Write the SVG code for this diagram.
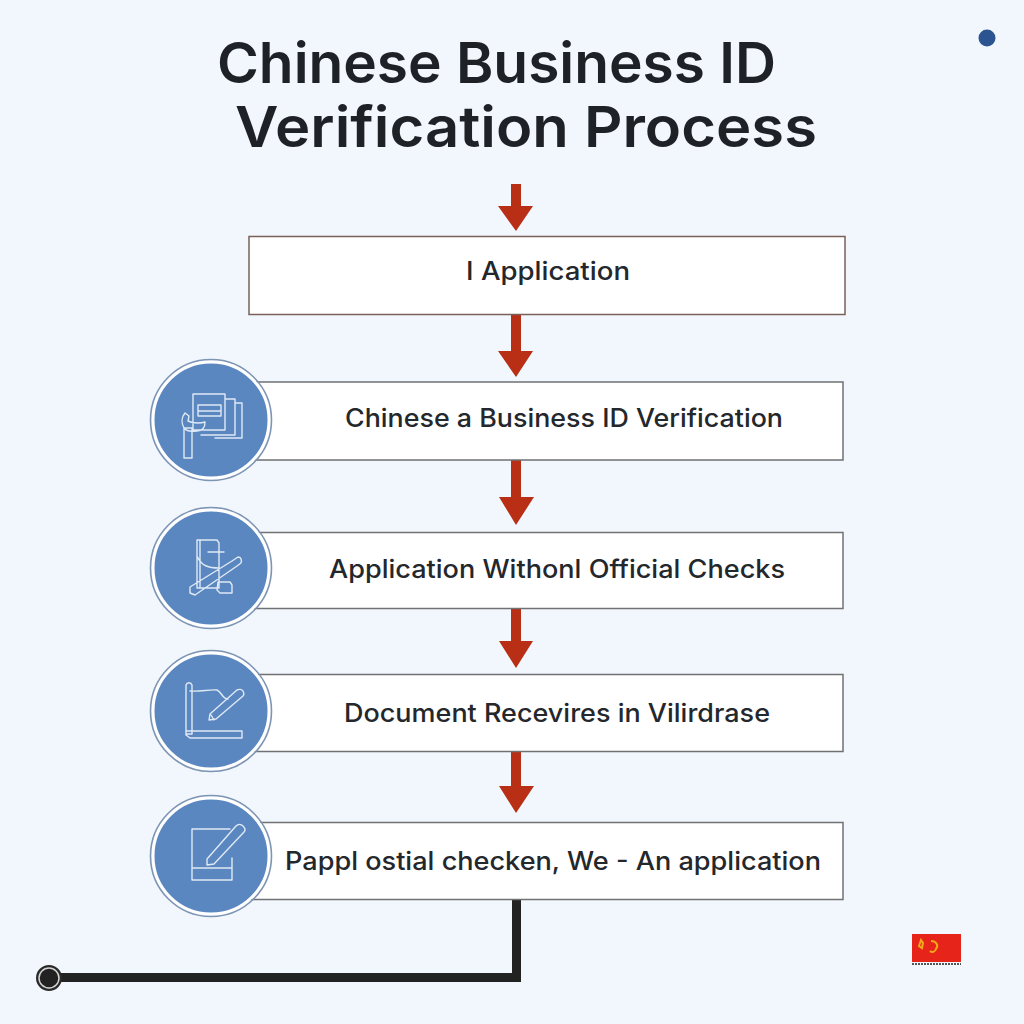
<svg xmlns="http://www.w3.org/2000/svg" width="1024" height="1024" viewBox="0 0 1024 1024">
<defs>
<style>
.title{font-family:Inter,"Open Sans","Liberation Sans",sans-serif;font-weight:600;font-size:56px;fill:#1e2227;text-anchor:start}
.label{font-family:Inter,"Open Sans","Liberation Sans",sans-serif;font-weight:500;font-size:25.500px;fill:#24272b;text-anchor:start}
.box{fill:#fff;stroke:#6f7173;stroke-width:1.5}
.disc{fill:#5b87c0;stroke:#fff;stroke-width:3}
.ring{fill:none;stroke:#7d94b3;stroke-width:1.6}
.icon{fill:none;stroke:#dfe9f5;stroke-width:1.4;stroke-linejoin:round;stroke-linecap:round}
.arrow{fill:#b92f16}
</style>
</defs>
<rect width="1024" height="1024" fill="#f2f7fe"/>
<circle cx="987" cy="38" r="8.500" fill="#2b5490"/>
<text class="title" x="217" y="83" textLength="559" lengthAdjust="spacingAndGlyphs">Chinese Business ID</text>
<text class="title" x="235" y="147" textLength="582" lengthAdjust="spacingAndGlyphs">Verification Process</text>
<g id="connectors">
<path class="arrow" d="M511 184h10v22h12l-17 25-18-25h13z"/>
<path class="arrow" d="M511 314h10v37h12l-17 26-18-26h13z"/>
<path class="arrow" d="M511 460h10v37h13l-18 28-17-28h12z"/>
<path class="arrow" d="M511 608h10v33h12l-17 27-17-27h12z"/>
<path class="arrow" d="M511 751h10v35h13l-18 27-17-27h12z"/>
<path d="M516.500 900V977.500H50" fill="none" stroke="#222" stroke-width="9"/>
<circle cx="49" cy="978" r="12" fill="#222" stroke="#2a2a2a" stroke-width="2"/>
<circle cx="49" cy="978" r="10" fill="none" stroke="#d5d5d5" stroke-width="1.500"/>
</g>
<g id="node-application">
<rect class="box" x="249" y="236.500" width="596" height="78" style="stroke:#7a6058"/>
<text class="label" x="466" y="280" textLength="164" lengthAdjust="spacingAndGlyphs">I Application</text>
</g>
<g id="node-verification">
<rect class="box" x="250" y="382" width="593" height="78"/>
<circle class="disc" cx="211" cy="420" r="58"/><circle class="ring" cx="211" cy="420" r="60.500"/>
<path class="icon" d="M193 394h32v36h-32zM225 399h10v36h-34M235 403h7v35h-27M198 405h23v11h-23zM198 411h23M184 428h8v30h-8zM184 428c-3-6-3-10 1-15l4 3-1 5c6 3 14 2 17 1 0 6-3 9-8 9-4 0-9 2-13-3z"/>
<text class="label" x="345" y="427" textLength="438" lengthAdjust="spacingAndGlyphs">Chinese a Business ID Verification</text>
</g>
<g id="node-official-checks">
<rect class="box" x="250" y="532.500" width="593" height="76"/>
<circle class="disc" cx="211" cy="568" r="58"/><circle class="ring" cx="211" cy="568" r="60.500"/>
<path class="icon" d="M197 540h20l2 3v45h-22zM200 540v48M190 587l42-26 6-4c3 0 4 3 3 6l-4 3-42 29-5-2zM208 552h16M197 556c4 10 12 12 22 12M218 582h12l2 3v8h-12l-3-3zM218 588h-18"/>
<text class="label" x="329" y="578" textLength="456" lengthAdjust="spacingAndGlyphs">Application Withonl Official Checks</text>
</g>
<g id="node-document">
<rect class="box" x="250" y="674.500" width="593" height="77"/>
<circle class="disc" cx="211" cy="711" r="58"/><circle class="ring" cx="211" cy="711" r="60.500"/>
<path class="icon" d="M186 685c1-3 5-3 6 0v49h-6zM186 731h56v7h-52l-4-3zM190 691c10 1 20-2 27-1 5 2 5 9 11 9M210 714l27-24c2-1 5-1 6 1 1 2 1 4 0 5l-27 23-7 1zM214 720l-3-5"/>
<text class="label" x="344" y="722" textLength="426" lengthAdjust="spacingAndGlyphs">Document Recevires in Vilirdrase</text>
</g>
<g id="node-paper">
<rect class="box" x="250" y="822.500" width="593" height="77"/>
<circle class="disc" cx="211" cy="856" r="58"/><circle class="ring" cx="211" cy="856" r="60.500"/>
<path class="icon" d="M192 829h38M192 829v51h40v-22M192 868h40M207 859l29-33c2-2 5-2 7 0 2 2 3 4 1 6l-30 32-7 1z"/>
<text class="label" x="285" y="870" textLength="536" lengthAdjust="spacingAndGlyphs">Pappl ostial checken, We - An application</text>
</g>
<g id="flag">
<rect x="912" y="934" width="49" height="28" fill="#e6241a"/>
<path d="M921 940l-2 6 3 2 1-5zM931 941c5 0 8 4 5 8-1 3-4 4-6 2" fill="none" stroke="#f2a81a" stroke-width="2"/>
<path d="M912 964h49" stroke="#555" stroke-width="2" stroke-dasharray="2 1"/>
</g>
</svg>
